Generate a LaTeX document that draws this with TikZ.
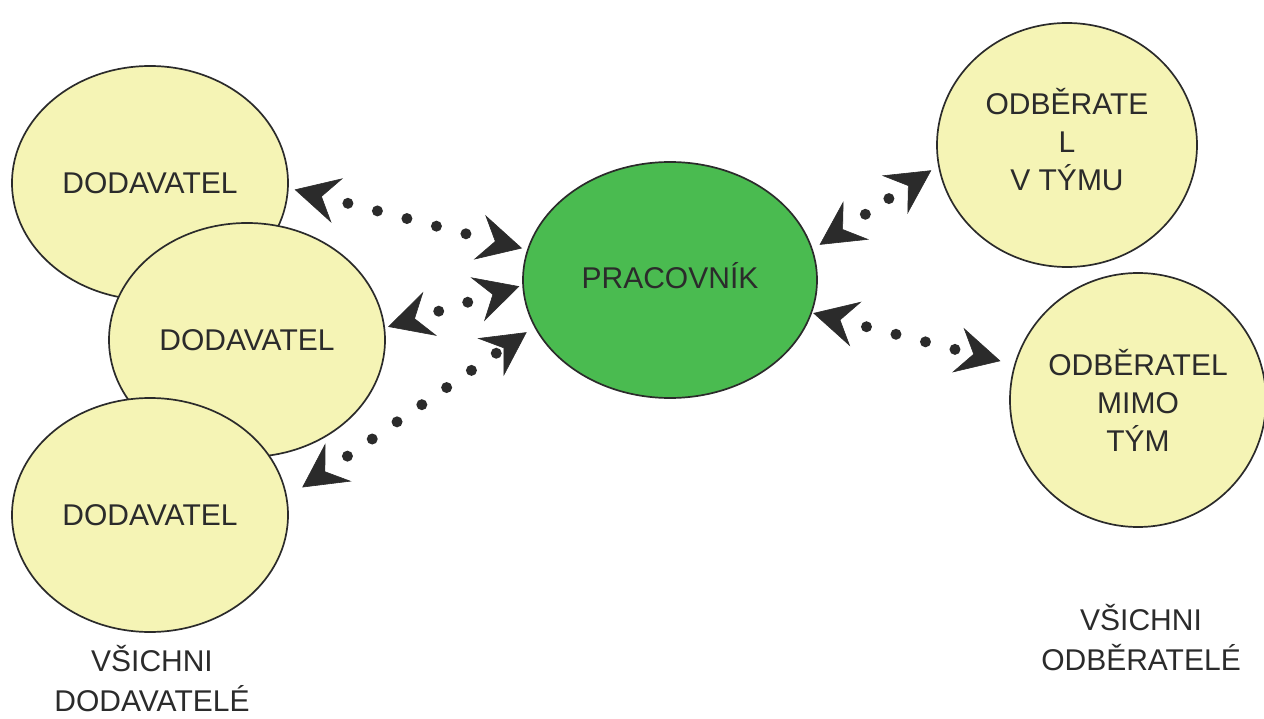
\documentclass[tikz,border=0pt]{standalone}
\usepackage{fontspec}
\setmainfont{Liberation Sans}
\usetikzlibrary{shapes.geometric,arrows.meta,calc}
\definecolor{paleY}{HTML}{F5F4B5}
\definecolor{leaf}{HTML}{4ABB50}
\definecolor{ink}{HTML}{2B2B2B}
% #1 start tip, #2 end tip, #3 number of gaps, #4 / #5 offset of the first / last dot
\newcommand\dotlink[5]{%
  \draw[heads] (#1) -- (#2);
  \coordinate (#1s) at ($(#1)!#4!(#2)$);
  \coordinate (#1e) at ($(#2)!#5!(#1)$);
  \foreach \i in {0,...,#3} \fill[ink] ($(#1s)!\i/#3!(#1e)$) circle (5.5pt);
}
\begin{document}
\begin{tikzpicture}[x=1pt,y=-1pt,
  blob/.style={ellipse, draw=ink, line width=1.7pt, fill=paleY, inner sep=0pt, outer sep=0pt,
    text=ink, font=\fontsize{30}{38}\selectfont, align=center},
  dart/.tip={Stealth[length=44pt,width=46pt,inset=16pt,line width=0.6pt,color=ink,fill=ink]},
  heads/.style={draw=white, line width=0.4pt, dart-dart},
  caption/.style={text=ink, font=\fontsize{30}{40}\selectfont, align=center, inner sep=0pt}]
\useasboundingbox (0,0) rectangle (1264,719);
\fill[white] (0,0) rectangle (1264,719);
% suppliers
\node[blob, minimum width=276pt, minimum height=234pt] (D1) at (150,183) {DODAVATEL};
\node[blob, minimum width=276pt, minimum height=234pt] (D2) at (247,340) {DODAVATEL};
\node[blob, minimum width=276pt, minimum height=234pt] (D3) at (150,515) {DODAVATEL};
% worker
\node[blob, fill=leaf, minimum width=294pt, minimum height=236pt, text depth=10pt] (P) at (670,280) {PRACOVNÍK};
% customers
\node[blob, minimum width=260pt, minimum height=244pt, text depth=12pt] (OV) at (1067,145) {ODBĚRATE\\L\\V TÝMU};
\node[blob, minimum width=256pt, minimum height=254pt] (OM) at (1138,400) {ODBĚRATEL\\MIMO\\TÝM};
% captions
\node[caption] (capD) at (152,679) {VŠICHNI\\DODAVATELÉ};
\node[caption] (capO) at (1141,638) {VŠICHNI\\ODBĚRATELÉ};
% connector end points (arrow tips, a small gap off each node)
\coordinate (a1) at ($(D1.358)!7pt!(P.168)$);
\coordinate (b1) at ($(P.168)!6pt!(D1.358)$);
\coordinate (a2) at ($(D2.5)!4pt!(P.182)$);
\coordinate (b2) at ($(P.182)!4pt!(D2.5)$);
\coordinate (a3) at ($(D3.7)!19pt!(P.199)$);
\coordinate (b3) at ($(P.199)!10pt!(D3.7)$);
\coordinate (a4) at ($(P.12)!9pt!(OV.189.5)$);
\coordinate (b4) at ($(OV.189.5)!9pt!(P.12)$);
\coordinate (a5) at ($(P.347)!2pt!(OM.164.6)$);
\coordinate (b5) at ($(OM.164.6)!15pt!(P.347)$);
% dotted double-headed connectors
\dotlink{a1}{b1}{4}{55pt}{58pt}
\dotlink{a2}{b2}{1}{53pt}{54pt}
\dotlink{a3}{b3}{6}{55pt}{37pt}
\dotlink{a4}{b4}{1}{55pt}{51pt}
\dotlink{a5}{b5}{3}{55pt}{47pt}
\end{tikzpicture}
\end{document}
